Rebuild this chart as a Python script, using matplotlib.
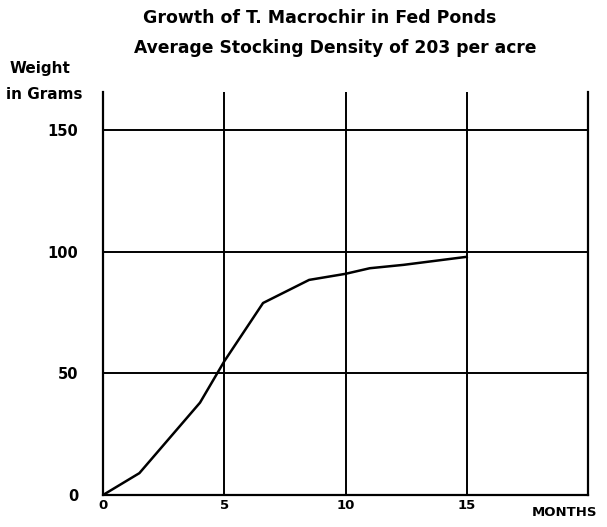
import matplotlib
matplotlib.use("Agg")
import matplotlib.pyplot as plt

# Growth data: months since stocking vs. average weight (g)
months = [0, 1.5, 4.0, 5.0, 6.6, 8.5, 10.0, 11.0, 12.4, 15.0]
weight = [0, 9, 38, 55, 79, 88.5, 91, 93.3, 94.7, 98]

x_ticks = [0, 5, 10, 15]
y_ticks = [0, 50, 100, 150]

plt.rcParams['font.family'] = ['DejaVu Sans']

fig = plt.figure(figsize=(6.07, 5.27), dpi=100)
ax = fig.add_axes([0.1697, 0.0607, 0.7990, 0.7647])

ax.set_xlim(0, 20)
ax.set_ylim(0, 165.8)

# grid lines
for x in x_ticks[1:]:
    ax.axvline(x, color='black', lw=1.4)
for y in y_ticks[1:]:
    ax.axhline(y, color='black', lw=1.4)

ax.plot(months, weight, color='black', lw=1.8, solid_joinstyle='round')

for side in ['left', 'bottom', 'right']:
    ax.spines[side].set_linewidth(1.6)
ax.spines['top'].set_visible(False)

ax.set_xticks(x_ticks)
ax.set_yticks(y_ticks)
ax.set_xticklabels([str(v) for v in x_ticks], fontsize=9.5, fontweight='bold')
ax.set_yticklabels([str(v) for v in y_ticks], fontsize=10.5, fontweight='bold')
ax.tick_params(axis='both', length=0)
ax.tick_params(axis='x', pad=3)
ax.tick_params(axis='y', pad=18)

fig.text(0.93, 0.015, 'MONTHS', fontsize=9.5, fontweight='bold', ha='center', va='bottom')
fig.text(0.015, 0.87, 'Weight', fontsize=11, fontweight='bold', ha='left', va='center')
fig.text(0.010, 0.82, 'in Grams', fontsize=11, fontweight='bold', ha='left', va='center')

fig.text(0.527, 0.966, 'Growth of T. Macrochir in Fed Ponds', fontsize=12.5, fontweight='bold',
         ha='center', va='center')
fig.text(0.552, 0.909, 'Average Stocking Density of 203 per acre', fontsize=12.3, fontweight='bold',
         ha='center', va='center')

fig.savefig('out.png', dpi=100)
